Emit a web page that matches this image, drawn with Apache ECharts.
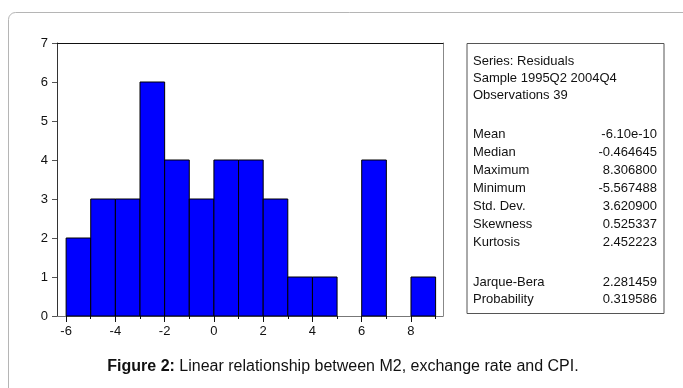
<!DOCTYPE html>
<html>
<head>
<meta charset="utf-8">
<script src="https://cdn.jsdelivr.net/npm/echarts@6/dist/echarts.min.js"></script>
<style>
html,body{margin:0;padding:0;background:#fff;}
#chart{width:683px;height:388px;}
</style>
</head>
<body>
<div id="chart"></div>
<script>
// Histogram bins (left edge, right edge) and counts
const binLeft  = [-6, -5, -4, -3, -2, -1, 0, 1, 2, 3, 4, 5, 6, 7, 8];
const binRight = [-5, -4, -3, -2, -1, 0, 1, 2, 3, 4, 5, 6, 7, 8, 9];
const counts   = [2, 3, 3, 6, 4, 3, 4, 4, 3, 1, 1, 0, 4, 0, 1];
const xMajorTicks = [-6, -4, -2, 0, 2, 4, 6, 8];
const xMinorTicks = [-5, -3, -1, 1, 3, 5, 7, 9];
const yTicks = [0, 1, 2, 3, 4, 5, 6, 7];

const headerLines = ['Series: Residuals', 'Sample 1995Q2 2004Q4', 'Observations 39'];
const statNames  = ['Mean', 'Median', 'Maximum', 'Minimum', 'Std. Dev.', 'Skewness', 'Kurtosis'];
const statValues = ['-6.10e-10', '-0.464645', '8.306800', '-5.567488', '3.620900', '0.525337', '2.452223'];
const testNames  = ['Jarque-Bera', 'Probability'];
const testValues = ['2.281459', '0.319586'];
const captionBold = 'Figure 2:';
const captionText = ' Linear relationship between M2, exchange rate and CPI.';

const chart = echarts.init(document.getElementById('chart'));
const FONT = '"Liberation Sans", Arial, sans-serif';

const data = binLeft.map((l, i) => [l, binRight[i], counts[i]]);

// stats box text
const boxX = 467, boxY = 43.5, boxW = 197, boxH = 270;
const textX = 473, valX = 657;
const graphics = [];
graphics.push({type:'rect', shape:{x:8.5, y:12.5, width:720, height:420, r:7},
  style:{fill:'none', stroke:'#b5b5b5', lineWidth:1}, silent:true});
graphics.push({type:'rect', shape:{x:boxX, y:boxY, width:boxW, height:boxH},
  style:{fill:'#fff', stroke:'#555', lineWidth:1}, silent:true});
const headerY = [61, 78, 95];
headerLines.forEach((t, i) => {
  graphics.push({type:'text', x:textX, y:headerY[i], style:{text:t, font:'13px '+FONT, fill:'#111', textVerticalAlign:'middle'}});
});
const statY0 = 134, statStep = 18;
statNames.forEach((t, i) => {
  const y = statY0 + i*statStep;
  graphics.push({type:'text', x:textX, y:y, style:{text:t, font:'13px '+FONT, fill:'#111', textVerticalAlign:'middle'}});
  graphics.push({type:'text', x:valX, y:y, style:{text:statValues[i], font:'13px '+FONT, fill:'#111', textAlign:'right', textVerticalAlign:'middle'}});
});
const testY = [282, 299];
testNames.forEach((t, i) => {
  const y = testY[i];
  graphics.push({type:'text', x:textX, y:y, style:{text:t, font:'13px '+FONT, fill:'#111', textVerticalAlign:'middle'}});
  graphics.push({type:'text', x:valX, y:y, style:{text:testValues[i], font:'13px '+FONT, fill:'#111', textAlign:'right', textVerticalAlign:'middle'}});
});
graphics.push({type:'text', x:343, y:367, style:{
  text:'{b|' + captionBold + '}{n|' + captionText + '}',
  textAlign:'center', textVerticalAlign:'middle',
  rich:{b:{font:'bold 16px '+FONT, fill:'#111'}, n:{font:'16px '+FONT, fill:'#111'}}
}});

const xMin = -6.37, xMax = 9.3;
const option = {
  animation:false,
  backgroundColor:'#fff',
  grid:{left:57, top:43, width:386, height:273, containLabel:false},
  xAxis:[
    {type:'value', min:xMin, max:xMax, position:'bottom',
      axisLine:{show:true, onZero:false, lineStyle:{color:'#777', width:1}},
      axisTick:{show:true, length:6, inside:false, customValues:xMajorTicks, lineStyle:{color:'#111'}},
      axisLabel:{show:true, customValues:xMajorTicks, fontSize:13, fontFamily:FONT, color:'#111', margin:9},
      splitLine:{show:false}},
    {type:'value', min:xMin, max:xMax, position:'bottom',
      axisLine:{show:false},
      axisTick:{show:true, length:3, customValues:xMinorTicks, lineStyle:{color:'#111'}},
      axisLabel:{show:false}, splitLine:{show:false}},
    {type:'value', min:xMin, max:xMax, position:'top',
      axisLine:{show:true, onZero:false, lineStyle:{color:'#111', width:1}},
      axisTick:{show:false}, axisLabel:{show:false}, splitLine:{show:false}}
  ],
  yAxis:[
    {type:'value', min:0, max:7, interval:1, position:'left',
      axisLine:{show:true, onZero:false, lineStyle:{color:'#333', width:1}},
      axisTick:{show:true, length:5, lineStyle:{color:'#555'}},
      axisLabel:{show:true, fontSize:13, fontFamily:FONT, color:'#111', margin:9, customValues:yTicks},
      splitLine:{show:false}},
    {type:'value', min:0, max:7, position:'right',
      axisLine:{show:true, onZero:false, lineStyle:{color:'#888', width:1}},
      axisTick:{show:false}, axisLabel:{show:false}, splitLine:{show:false}}
  ],
  series:[{
    type:'custom',
    xAxisIndex:0, yAxisIndex:0,
    data:data,
    renderItem:function(params, api){
      const p0 = api.coord([api.value(0), api.value(2)]);
      const p1 = api.coord([api.value(1), 0]);
      if (api.value(2) <= 0) return null;
      return {type:'rect',
        shape:{x:p0[0], y:p0[1], width:p1[0]-p0[0], height:p1[1]-p0[1]},
        style:{fill:'#0000ff', stroke:'#000', lineWidth:1}};
    },
    encode:{x:[0,1], y:2}
  }],
  graphic:graphics
};
chart.setOption(option);
</script>
</body>
</html>
